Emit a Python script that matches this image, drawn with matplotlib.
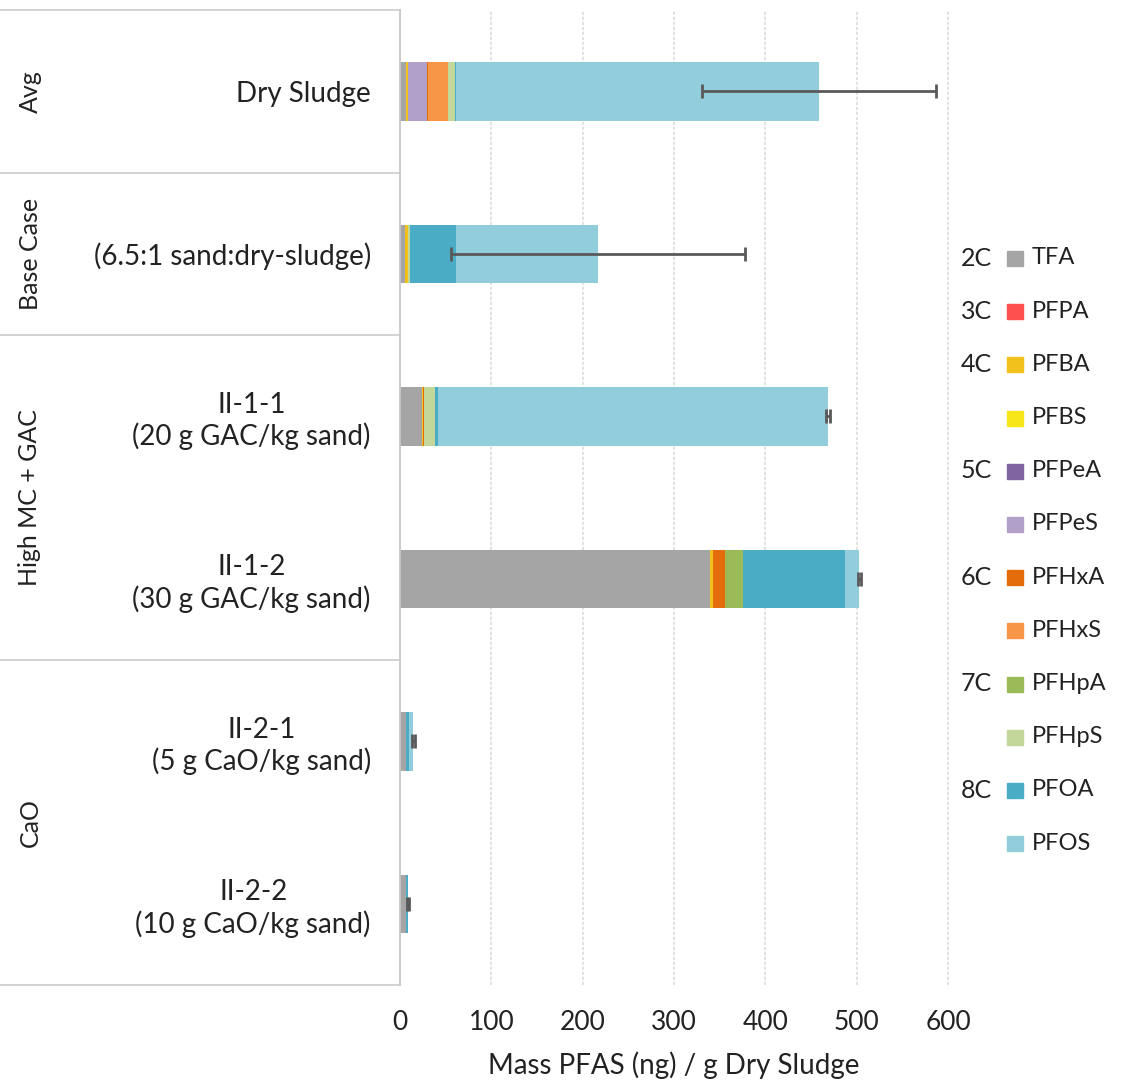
import numpy as np
import matplotlib.pyplot as plt
from matplotlib.patches import Rectangle
from matplotlib.transforms import blended_transform_factory

plt.rcParams['font.family'] = ['Lato', 'DejaVu Sans']

# samples, top to bottom
samples = ['Dry Sludge', '(6.5:1 sand:dry-sludge)',
           'II-1-1\n(20 g GAC/kg sand)', 'II-1-2\n(30 g GAC/kg sand)',
           'II-2-1\n(5 g CaO/kg sand)', 'II-2-2\n(10 g CaO/kg sand)']
groups = ['Avg', 'Base Case', 'High MC + GAC', 'CaO']
group_rows = [(0, 0), (1, 1), (2, 3), (4, 5)]

compounds = ['TFA', 'PFPA', 'PFBA', 'PFBS', 'PFPeA', 'PFPeS',
             'PFHxA', 'PFHxS', 'PFHpA', 'PFHpS', 'PFOA', 'PFOS']
chain = ['2C', '3C', '4C', '', '5C', '', '6C', '', '7C', '', '8C', '']
colors = ['#A5A5A5', '#FF5050', '#F2C11C', '#F7E619', '#8064A2', '#B1A0C7',
          '#E46C0A', '#F79646', '#9BBB59', '#C4D79B', '#4BACC6', '#92CDDC']

TFA   = [7.0, 6.0, 24.5, 339.5, 7.0, 7.0]
PFPA  = [0, 0, 0, 0, 0, 0]
PFBA  = [2.0, 2.5, 0.5, 3.6, 0, 0]
PFBS  = [0, 0, 0, 0, 0, 0]
PFPeA = [0, 0, 0, 0, 0, 0]
PFPeS = [20.6, 0, 0, 0, 0, 0]
PFHxA = [1.0, 0, 1.8, 12.8, 0, 0]
PFHxS = [21.8, 0, 0, 0, 0, 0]
PFHpA = [0, 0, 0, 20.0, 0, 0]
PFHpS = [7.9, 2.0, 12.0, 0, 0, 0]
PFOA  = [1.5, 50.7, 2.5, 111.8, 3.0, 1.5]
PFOS  = [397.0, 156.0, 427.0, 15.3, 4.5, 0]
errors = [128, 161, 2, 1.5, 1.5, 1]

values = [TFA, PFPA, PFBA, PFBS, PFPeA, PFPeS, PFHxA, PFHxS, PFHpA, PFHpS, PFOA, PFOS]

W, H = 1122, 1084
fig = plt.figure(figsize=(W / 100, H / 100), dpi=100)
ax = fig.add_axes([400 / W, (H - 985) / H, 548 / W, 975 / H])

y = np.arange(len(samples))
left = np.zeros(len(samples))
for name, vals, c in zip(compounds, values, colors):
    vals = np.array(vals, dtype=float)
    ax.barh(y, vals, left=left, height=0.36, color=c, label=name, zorder=2)
    left += vals

ax.errorbar(left, y, xerr=errors, fmt='none', ecolor='#595959',
            elinewidth=2, capsize=5, capthick=2, zorder=3)

ax.set_xlim(0, 600)
ax.set_ylim(len(samples) - 0.5, -0.5)
ax.set_xticks(np.arange(0, 601, 100))
ax.tick_params(axis='x', length=0, pad=18, labelsize=19, labelcolor='#222222')
ax.set_yticks(y, labels=samples)
ax.tick_params(axis='y', length=0, pad=21, labelsize=20, labelcolor='#222222')
for lab in ax.get_yticklabels():
    lab.set_multialignment('center')
    lab.set_linespacing(1.2)
ax.grid(axis='x', color='#DDDDDD', linestyle=(0, (2, 1)), linewidth=1.2, zorder=0)
ax.xaxis.get_gridlines()[-1].set_clip_on(False)
for s in ['top', 'right', 'bottom']:
    ax.spines[s].set_visible(False)
ax.spines['left'].set_color('#C8C8C8')
ax.spines['left'].set_linewidth(1.3)
ax.set_xlabel('Mass PFAS (ng) / g Dry Sludge', fontsize=20, color='#222222', labelpad=12)

# left-hand grouping table
tr = blended_transform_factory(ax.transAxes, ax.transData)
for b in [-0.5, 0.5, 1.5, 3.5, 5.5]:
    ax.plot([-400 / 548, 0], [b, b], transform=tr, color='#D0D0D0', lw=1.3, clip_on=False)
for g, (a, b) in zip(groups, group_rows):
    ax.text(-370 / 548, (a + b) / 2, g, transform=tr, rotation=90, ha='center', va='center',
            fontsize=18, color='#222222')

# legend
x0 = 1007
for i, (name, c, cl) in enumerate(zip(compounds, colors, chain)):
    yc = 258 + i * 53.2
    fig.patches.append(Rectangle((x0 / W, 1 - (yc + 8) / H), 16 / W, 15 / H,
                                 transform=fig.transFigure, color=c))
    fig.text(1032 / W, 1 - yc / H, name, fontsize=17, va='center', ha='left', color='#222222')
    if cl:
        fig.text(992 / W, 1 - yc / H, cl, fontsize=18, va='center', ha='right', color='#222222')

fig.savefig('out.png', dpi=100)
